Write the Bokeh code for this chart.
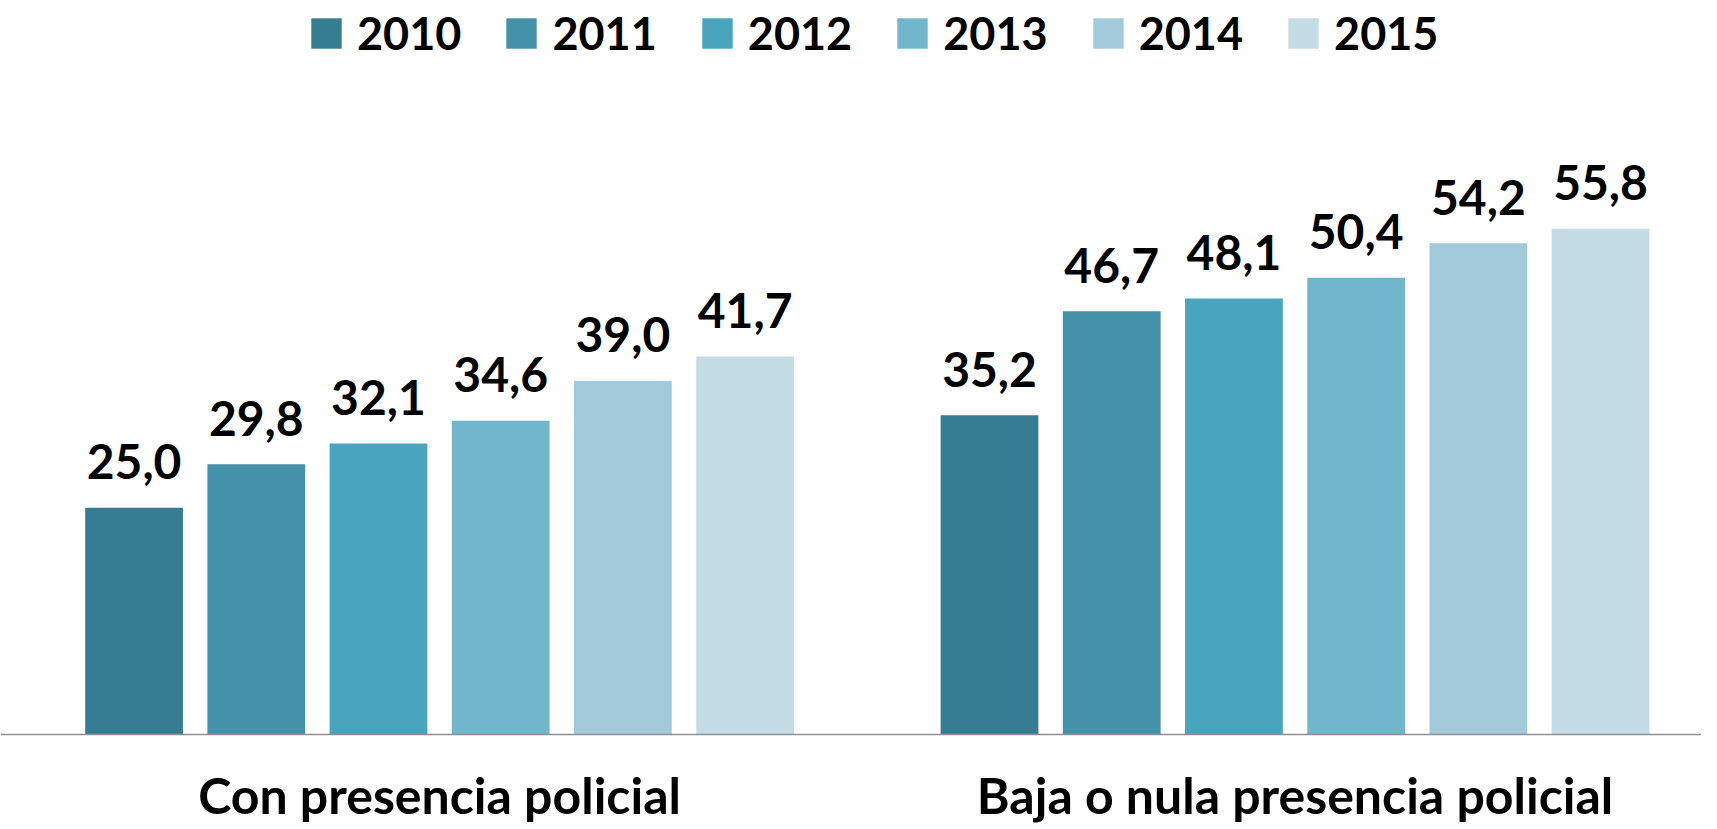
from bokeh.plotting import figure
from bokeh.models import ColumnDataSource, Range1d, FixedTicker, Legend, LegendItem
from bokeh.core.properties import value
from bokeh.embed import file_html
from bokeh.resources import INLINE

categories = ["Con presencia policial", "Baja o nula presencia policial"]
years = ["2010", "2011", "2012", "2013", "2014", "2015"]
con_presencia = [25.0, 29.8, 32.1, 34.6, 39.0, 41.7]
baja_presencia = [35.2, 46.7, 48.1, 50.4, 54.2, 55.8]
colors = ["#377d91", "#4392aa", "#49a5bd", "#72b6cc", "#a3cadb", "#c3dce6"]

FONT = "Lato"
GROUP_STEP = 7
W, H = 1701, 825

p = figure(width=W, height=H, output_backend="svg", toolbar_location=None,
           x_range=Range1d(-1.093, 12.826), y_range=Range1d(-10.08, 81.0),
           min_border_left=0, min_border_right=0, min_border_top=0, min_border_bottom=0)
p.outline_line_color = None
p.xgrid.visible = False
p.ygrid.visible = False
p.yaxis.visible = False
p.background_fill_color = "white"
p.border_fill_color = "white"

items = []
for j, yr in enumerate(years):
    vals = [con_presencia[j], baja_presencia[j]]
    src = ColumnDataSource(dict(
        x=[g * GROUP_STEP + j for g in range(len(categories))],
        top=vals,
        label=[f"{v:.1f}".replace(".", ",") for v in vals],
    ))
    r = p.vbar(x="x", top="top", bottom=0, width=0.8, source=src,
               fill_color=colors[j], line_color=None)
    p.text(x="x", y="top", text="label", source=src, text_align="center",
           text_baseline="alphabetic", y_offset=-46, text_font=value(FONT),
           text_font_style="bold", text_font_size="48px", text_color="black")
    items.append(LegendItem(label=yr, renderers=[r]))

legend = Legend(items=items, orientation="horizontal", location=(307, 765),
                glyph_width=38, glyph_height=38, label_standoff=12, spacing=41,
                padding=0, margin=0, border_line_color=None, background_fill_alpha=0,
                label_text_font=FONT, label_text_font_style="bold",
                label_text_font_size="45px", label_text_color="black")
p.add_layout(legend)

ax = p.xaxis[0]
ax.fixed_location = 0
ax.ticker = FixedTicker(ticks=[2.5, 2.5 + GROUP_STEP])
ax.major_label_overrides = {2.5: categories[0], 2.5 + GROUP_STEP: categories[1]}
ax.major_tick_line_color = None
ax.minor_tick_line_color = None
ax.major_tick_out = 0
ax.major_tick_in = 0
ax.major_label_standoff = 31
ax.axis_line_color = "#8f8f8f"
ax.axis_line_width = 1.5
ax.major_label_text_font = FONT
ax.major_label_text_font_style = "bold"
ax.major_label_text_font_size = "50px"
ax.major_label_text_color = "black"

open("out.html", "w").write(file_html(p, INLINE))
